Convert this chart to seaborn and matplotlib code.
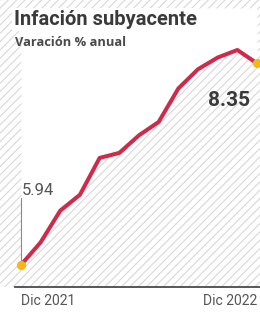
"""Core inflation (Mexico), Dec 2021 - Dec 2022."""
import matplotlib
matplotlib.use("Agg")
import numpy as np
import pandas as pd
import seaborn as sns
from matplotlib import pyplot as plt
from matplotlib.patches import Rectangle

months = ["Dic 2021", "Ene", "Feb", "Mar", "Abr", "May", "Jun",
          "Jul", "Ago", "Sep", "Oct", "Nov", "Dic 2022"]
values = [5.94, 6.21, 6.59, 6.78, 7.22, 7.28, 7.49,
          7.65, 8.05, 8.28, 8.42, 8.51, 8.35]
tick_labels = ["Dic 2021", "Dic 2022"]

TITLE = "Infación subyacente"
SUBTITLE = "Varación % anual"

LINE = "#d02a4b"
DOT = "#f3b817"
HATCH = "#d6d6d6"
TEXT = "#3a3a3a"

W, H = 260, 313


def main() -> None:
    sns.set_theme(style="white")
    plt.rcParams["font.family"] = ["Roboto", "DejaVu Sans"]
    plt.rcParams["hatch.linewidth"] = 0.75
    plt.rcParams["hatch.color"] = HATCH

    df = pd.DataFrame({"pos": np.arange(len(months)), "mes": months, "valor": values})

    fig = plt.figure(figsize=(W / 100, H / 100), dpi=100)
    fig.patch.set_facecolor("white")

    # hatched background above the baseline
    bg = Rectangle((0, 26 / H), 1, 1 - 26 / H, transform=fig.transFigure,
                   facecolor="white", edgecolor=HATCH, hatch="////", linewidth=0, zorder=-10)
    fig.patches.append(bg)

    ax = fig.add_axes([15 / W, 26 / H, 245 / W, 279 / H])
    ax.patch.set_alpha(0)
    ymin, ymax = 5.677, 9.012
    ax.set_xlim(-0.3, 12.15)
    ax.set_ylim(ymin, ymax)

    # white area above the line
    ax.fill_between(df["pos"], df["valor"], ymax, color="white", linewidth=0, zorder=1)

    sns.lineplot(data=df, x="pos", y="valor", ax=ax, color=LINE, linewidth=2.9,
                 zorder=3, legend=False)
    ends = df.iloc[[0, -1]]
    ax.scatter(ends["pos"], ends["valor"], s=44, color=DOT, zorder=4,
               linewidth=0, clip_on=False)

    # annotations
    ax.plot([0, 0], [values[0], 6.74], color="#8a8a8a", linewidth=0.8, zorder=2)
    ax.text(0.02, 6.78, f"{values[0]:.2f}", fontsize=12, color="#555555",
            ha="left", va="baseline", zorder=5)
    ax.text(11.62, 8.02, f"{values[-1]:.2f}", fontsize=15, color=TEXT,
            fontweight="bold", ha="right", va="top", zorder=5)

    fig.text(14 / W, 1 - 25 / H, TITLE, fontsize=14.5, fontweight="bold", color=TEXT,
             ha="left", va="baseline",
             bbox=dict(facecolor="white", edgecolor="none", pad=1.5))
    fig.text(15 / W, 1 - 46 / H, SUBTITLE, fontsize=9.3, fontweight="bold", color="#4a4a4a",
             family=["Open Sans", "DejaVu Sans"], ha="left", va="baseline")

    # axis
    for side in ["top", "right", "left"]:
        ax.spines[side].set_visible(False)
    ax.spines["bottom"].set_color("#4a4a4a")
    ax.spines["bottom"].set_linewidth(1.3)
    ax.set_yticks([])
    ax.set_xticks([0, 12])
    ax.set_xticklabels(tick_labels, fontsize=10, color="#555555")
    ax.get_xticklabels()[0].set_horizontalalignment("left")
    ax.get_xticklabels()[1].set_horizontalalignment("right")
    ax.tick_params(axis="x", length=0, pad=5)
    ax.set_xlabel("")
    ax.set_ylabel("")

    fig.savefig("out.png", dpi=100)


if __name__ == "__main__":
    main()
